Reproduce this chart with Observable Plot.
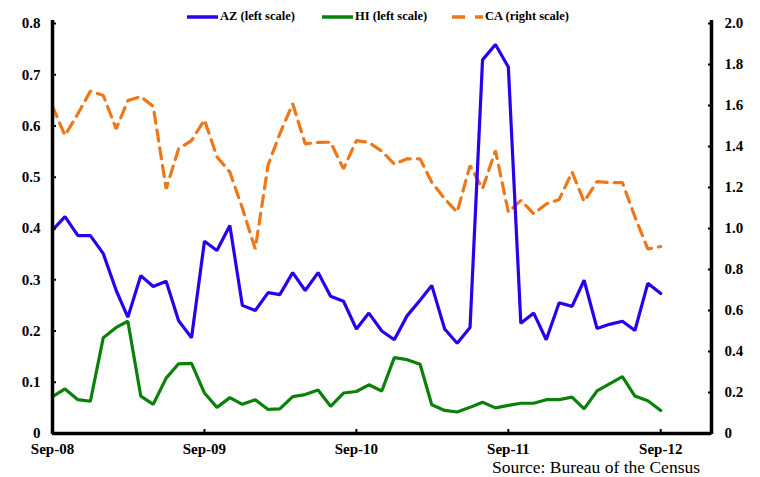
<!DOCTYPE html>
<html>
<head>
<meta charset="utf-8">
<script src="https://cdn.jsdelivr.net/npm/d3@7"></script>
<script src="https://cdn.jsdelivr.net/npm/@observablehq/plot@0.6"></script>
<style>
  body { margin: 0; background: #fff; }
  #wrap { position: relative; width: 760px; height: 477px; overflow: hidden; }
  #chart svg { overflow: visible; }
  #legend { position: absolute; top: 0; left: 0; width: 760px; height: 30px; font-family: "Liberation Serif", "Times New Roman", serif; font-weight: bold; font-size: 12.5px; color: #000; }
  .item { position: absolute; top: 9px; display: flex; align-items: center; white-space: nowrap; }
  .item svg { margin-right: 2px; }
  #source { position: absolute; top: 457px; left: 492px; font-family: "Liberation Serif", "Times New Roman", serif; font-size: 17.5px; color: #000; white-space: nowrap; }
</style>
</head>
<body>
<div id="wrap">
  <div id="chart"></div>
  <div id="legend"></div>
  <div id="source">Source: Bureau of the Census</div>
</div>
<script>
// Monthly observations, Sep-2008 .. Sep-2012
const startMonth = "2008-09-01";
const xDomainEnd = "2013-01-01";
const tickLabels = ["Sep-08", "Sep-09", "Sep-10", "Sep-11", "Sep-12"];
const tickDates = ["2008-09-01", "2009-09-01", "2010-09-01", "2011-09-01", "2012-09-01"];

const az = [0.397,0.423,0.386,0.386,0.351,0.279,0.227,0.308,0.287,0.297,0.220,0.187,
            0.375,0.357,0.406,0.250,0.240,0.275,0.271,0.314,0.279,0.314,0.268,0.258,
            0.204,0.235,0.200,0.183,0.230,0.260,0.289,0.204,0.176,0.207,0.729,0.759,
            0.715,0.215,0.235,0.183,0.255,0.248,0.299,0.205,0.213,0.219,0.201,0.293,
            0.273];
const hi = [0.072,0.087,0.066,0.063,0.187,0.207,0.219,0.073,0.057,0.108,0.136,0.137,
            0.079,0.051,0.070,0.057,0.066,0.047,0.048,0.072,0.076,0.085,0.053,0.079,
            0.082,0.095,0.083,0.148,0.144,0.135,0.056,0.045,0.042,0.051,0.061,0.050,
            0.055,0.059,0.059,0.066,0.066,0.071,0.048,0.083,0.097,0.111,0.073,0.064,
            0.045];
const ca = [1.595,1.454,1.560,1.670,1.649,1.486,1.624,1.644,1.595,1.194,1.389,1.429,
            1.530,1.350,1.275,1.100,0.900,1.310,1.462,1.608,1.413,1.420,1.421,1.291,
            1.429,1.420,1.377,1.315,1.340,1.340,1.226,1.145,1.080,1.307,1.194,1.380,
            1.080,1.137,1.072,1.120,1.141,1.275,1.132,1.229,1.224,1.224,1.057,0.900,
            0.912];

const leftTicks = [0, 0.1, 0.2, 0.3, 0.4, 0.5, 0.6, 0.7, 0.8];
const rightTicks = [0, 0.2, 0.4, 0.6, 0.8, 1.0, 1.2, 1.4, 1.6, 1.8, 2.0];
const leftMax = 0.8, rightMax = 2.0;
const ratio = leftMax / rightMax;

const colors = { AZ: "#2a00ee", HI: "#0b800b", CA: "#ee7718" };

const start = new Date(startMonth);
const dates = az.map((_, i) => d3.utcMonth.offset(start, i));
const rows = dates.map((d, i) => ({ date: d, az: az[i], hi: hi[i], ca: ca[i] * ratio }));
const xDomain = [start, new Date(xDomainEnd)];

const fmt = v => v === 0 ? "0" : v.toFixed(1);
const serif = "Liberation Serif";

const chart = Plot.plot({
  width: 760,
  height: 477,
  marginLeft: 52,
  marginRight: 49,
  marginTop: 23,
  marginBottom: 44,
  style: { fontFamily: serif, fontSize: "15px", fontWeight: "bold", color: "#000", background: "#fff", overflow: "visible" },
  x: { type: "utc", domain: xDomain },
  y: { domain: [0, leftMax] },
  marks: [
    Plot.lineY(rows, { x: "date", y: "ca", stroke: colors.CA, strokeWidth: 3.2, strokeDasharray: "11,7", strokeLinejoin: "miter" }),
    Plot.lineY(rows, { x: "date", y: "hi", stroke: colors.HI, strokeWidth: 3.2, strokeLinejoin: "miter" }),
    Plot.lineY(rows, { x: "date", y: "az", stroke: colors.AZ, strokeWidth: 3.2, strokeLinejoin: "miter" }),
    Plot.ruleY([0], { stroke: "#000", strokeWidth: 3.5 }),
    Plot.ruleX([xDomain[0], xDomain[1]], { stroke: "#000", strokeWidth: 3.5, insetTop: -3, insetBottom: -1 }),
    Plot.axisY({ anchor: "left", ticks: leftTicks, tickFormat: fmt, tickSize: -4, tickPadding: 16, strokeWidth: 2, label: null, fontFamily: serif, fontWeight: "bold", fontSize: 15 }),
    Plot.axisY({ anchor: "right", ticks: rightTicks.map(v => v * ratio), tickFormat: v => fmt(Math.round(v / ratio * 10) / 10), tickSize: -4, tickPadding: 17, strokeWidth: 2, label: null, fontFamily: serif, fontWeight: "bold", fontSize: 15 }),
    Plot.axisX({ anchor: "bottom", ticks: tickDates.map(d => new Date(d)), tickFormat: (d, i) => tickLabels[i], tickSize: -4, tickPadding: 14, strokeWidth: 2, label: null, fontFamily: serif, fontWeight: "bold", fontSize: 15 })
  ]
});
document.getElementById("chart").appendChild(chart);

// Legend
const legendItems = [
  { label: "AZ (left scale)", color: colors.AZ, dash: null, left: 187 },
  { label: "HI (left scale)", color: colors.HI, dash: null, left: 322 },
  { label: "CA (right scale)", color: colors.CA, dash: "13,10", left: 452 }
];
const legend = document.getElementById("legend");
for (const it of legendItems) {
  const div = document.createElement("div");
  div.className = "item";
  div.style.left = it.left + "px";
  div.innerHTML = `<svg width="31" height="14"><line x1="0" x2="31" y1="7" y2="7" stroke="${it.color}" stroke-width="3.5" ${it.dash ? `stroke-dasharray="${it.dash}"` : ""}/></svg><span>${it.label}</span>`;
  legend.appendChild(div);
}
</script>
</body>
</html>
